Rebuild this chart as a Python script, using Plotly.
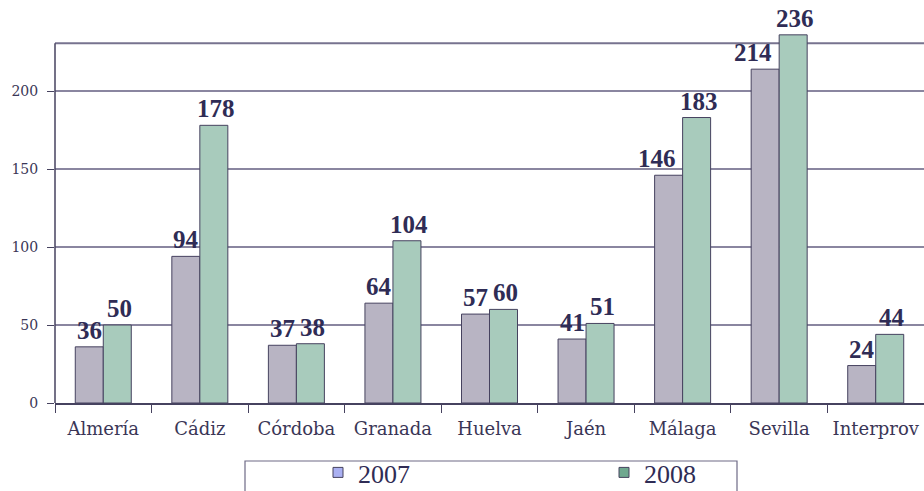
import plotly.graph_objects as go

categories = ["Almería", "Cádiz", "Córdoba", "Granada", "Huelva", "Jaén", "Málaga", "Sevilla", "Interprov"]
values_2007 = [36, 94, 37, 64, 57, 41, 146, 214, 24]
values_2008 = [50, 178, 38, 104, 60, 51, 183, 236, 44]
series_names = ["2007", "2008"]
y_ticks = [0, 50, 100, 150, 200]
frame_top = 230.6  # value level of the top frame line

W, H = 924, 491
ML, MR, MT, MB = 55, 0, 0, 88
PW, PH = W - ML - MR, H - MT - MB
PX_PER_UNIT = 1.56
Y_MAX = PH / PX_PER_UNIT

dark = "#2f2c55"
edge = "#46425f"
serif = "Liberation Serif"
serif2 = "DejaVu Serif"

fig = go.Figure()
fig.add_trace(go.Bar(
    x=categories, y=values_2007, name=series_names[0], showlegend=False,
    marker=dict(color="#b8b4c3", line=dict(color=edge, width=1)),
))
fig.add_trace(go.Bar(
    x=categories, y=values_2008, name=series_names[1], showlegend=False,
    marker=dict(color="#a8cbbc", line=dict(color=edge, width=1)),
))
# legend entries
fig.add_trace(go.Scatter(x=[None], y=[None], mode="markers", name=series_names[0],
                         marker=dict(symbol="square", size=10, color="#aab0f2", line=dict(color=edge, width=1))))
fig.add_trace(go.Scatter(x=[None], y=[None], mode="markers", name=series_names[1],
                         marker=dict(symbol="square", size=10, color="#6fa88f", line=dict(color=edge, width=1))))

# value labels
annotations = []
for cat, v in zip(categories, values_2007):
    shift = -14 if v < 100 else -26
    annotations.append(dict(x=cat, y=v, xref="x", yref="y", text=f"<b>{v}</b>", showarrow=False,
                            xanchor="center", yanchor="bottom", xshift=shift, yshift=1,
                            font=dict(family=serif, size=25, color=dark)))
for cat, v in zip(categories, values_2008):
    shift = 16
    annotations.append(dict(x=cat, y=v, xref="x", yref="y", text=f"<b>{v}</b>", showarrow=False,
                            xanchor="center", yanchor="bottom", xshift=shift, yshift=1,
                            font=dict(family=serif, size=25, color=dark)))

def px_x(p):
    return (p - ML) / PW

def px_y(p):
    return (H - MB - p) / PH

shapes = [
    # top frame line
    dict(type="line", xref="paper", yref="y", x0=0, x1=1, y0=frame_top, y1=frame_top,
         line=dict(color="#77738f", width=2), layer="below"),
    # left axis line
    dict(type="line", xref="paper", yref="y", x0=0, x1=0, y0=0, y1=frame_top,
         line=dict(color=edge, width=1.5), layer="above"),
    # legend box
    dict(type="rect", xref="paper", yref="paper",
         x0=px_x(245), x1=px_x(737), y0=px_y(500), y1=px_y(461),
         line=dict(color="#6e6a86", width=1.2), fillcolor="rgba(0,0,0,0)"),
]

fig.update_layout(
    width=W, height=H,
    margin=dict(l=ML, r=MR, t=MT, b=MB, autoexpand=False),
    paper_bgcolor="white", plot_bgcolor="white",
    barmode="group", bargap=0.42, bargroupgap=0,
    font=dict(family=serif2, color="#3a3656"),
    xaxis=dict(
        automargin=False,
        showline=True, linecolor=edge, linewidth=1.5,
        ticks="outside", tickson="boundaries", ticklen=8, tickcolor=edge,
        ticklabelstandoff=9,
        tickfont=dict(family=serif2, size=18, color="#3a3656"),
        showgrid=False,
    ),
    yaxis=dict(
        automargin=False,
        range=[0, Y_MAX], tickvals=y_ticks,
        showline=False,
        ticks="outside", ticklen=7, tickcolor=edge,
        ticklabelstandoff=6,
        tickfont=dict(family=serif2, size=14, color="#3a3656"),
        showgrid=True, gridcolor="#8a86a0", gridwidth=1.6,
        zeroline=False,
    ),
    showlegend=True,
    legend=dict(
        orientation="h", xref="container", yref="container",
        x=318 / W, y=1 - 472.5 / H, xanchor="left", yanchor="middle",
        entrywidth=241, entrywidthmode="pixels",
        font=dict(family=serif, size=26, color=dark),
        bgcolor="rgba(0,0,0,0)",
    ),
    annotations=annotations,
    shapes=shapes,
)

fig.write_html("out.html", config={"displayModeBar": False},
               post_script="document.body.style.margin='0';document.body.style.overflow='hidden';")
